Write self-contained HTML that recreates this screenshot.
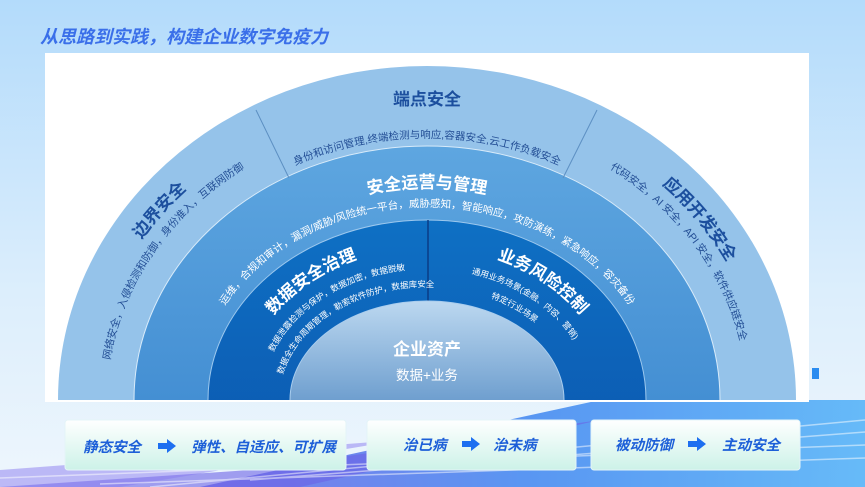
<!DOCTYPE html>
<html><head><meta charset="utf-8"><style>
html,body{margin:0;padding:0;width:865px;height:487px;overflow:hidden}
body{font-family:"Liberation Sans","Noto Sans CJK SC",sans-serif}
svg{display:block}
svg text{font-family:"Liberation Sans","Noto Sans CJK SC",sans-serif}
</style></head><body>
<svg width="865" height="487" viewBox="0 0 865 487" xmlns="http://www.w3.org/2000/svg">
<defs>
<linearGradient id="bg" x1="0" y1="0" x2="0" y2="1">
<stop offset="0" stop-color="#b3dbfb"/><stop offset="0.6" stop-color="#dceefc"/><stop offset="1" stop-color="#eef6fd"/>
</linearGradient>
<linearGradient id="r2" x1="0" y1="0" x2="0" y2="1">
<stop offset="0" stop-color="#5ea6e0"/><stop offset="1" stop-color="#2a78c6"/>
</linearGradient>
<linearGradient id="r3" x1="0" y1="0" x2="0" y2="1">
<stop offset="0" stop-color="#0e70c4"/><stop offset="1" stop-color="#0b4da6"/>
</linearGradient>
<linearGradient id="dome" x1="0" y1="0" x2="0" y2="1">
<stop offset="0" stop-color="#bcd8f0"/><stop offset="0.5" stop-color="#6f9fcf"/><stop offset="1" stop-color="#2c6fb0"/>
</linearGradient>
<linearGradient id="box" x1="0" y1="0" x2="0" y2="1">
<stop offset="0" stop-color="#ffffff"/><stop offset="1" stop-color="#cdf2e8"/>
</linearGradient>
<linearGradient id="stripe" x1="0" y1="0" x2="1" y2="0">
<stop offset="0" stop-color="#6a63e6"/><stop offset="0.5" stop-color="#3f86f0"/><stop offset="1" stop-color="#4fb0f7"/>
</linearGradient>
<clipPath id="cut"><rect x="0" y="0" width="865" height="400"/></clipPath>
<path id="pT1" d="M 89 400 A 338 300 0 0 1 765 400"/>
<path id="pS1" d="M 107 400 A 320 282 0 0 1 747 400"/>
<path id="pTop1" d="M 130 400 A 297 262 0 0 1 724 400"/>
<path id="pT2" d="M 182 400 A 245 212 0 0 1 672 400"/>
<path id="pS2" d="M 195 400 A 232 193 0 0 1 659 400"/>
<path id="pT3" d="M 242 400 A 185 152 0 0 1 612 400"/>
<path id="pL2" d="M 262 400 A 165 131 0 0 1 592 400"/>
<path id="pL3" d="M 279 400 A 148 113 0 0 1 575 400"/>
</defs>
<rect width="865" height="487" fill="url(#bg)"/>
<polygon points="200,487 865,487 865,400 600,400" fill="url(#stripe)" opacity="0.85"/>
<polygon points="0,487 300,487 600,420 250,470" fill="#6a63e6" opacity="0.6"/>
<polygon points="0,470 0,487 120,487 400,440" fill="#8a7cf0" opacity="0.5"/>
<g stroke="#ffffff" stroke-width="1.5" opacity="0.5">
<line x1="150" y1="487" x2="865" y2="420"/><line x1="250" y1="480" x2="865" y2="432"/>
<line x1="0" y1="478" x2="865" y2="445"/><line x1="100" y1="484" x2="865" y2="458"/>
</g>
<rect x="812" y="368" width="7" height="11" fill="#2a8cf0"/>
<text x="40" y="43" font-size="18" font-weight="bold" font-style="italic" fill="#3a6fe9">从思路到实践，构建企业数字免疫力</text>
<rect x="45" y="53" width="764" height="349" fill="#ffffff"/>
<g clip-path="url(#cut)">
<ellipse cx="427" cy="400" rx="369" ry="334" fill="#95c3ea"/>
<ellipse cx="427" cy="400" rx="293" ry="254" fill="url(#r2)" stroke="#d8ebfa" stroke-width="1"/>
<ellipse cx="427" cy="400" rx="219" ry="180" fill="url(#r3)" stroke="#9cc8ee" stroke-width="1"/>
<line x1="428" y1="220" x2="428" y2="310" stroke="#0a3c86" stroke-width="1.5"/>
<ellipse cx="427" cy="400" rx="137" ry="99" fill="url(#dome)" stroke="#a9cdee" stroke-width="1"/>
</g>
<line x1="256" y1="110" x2="289" y2="178" stroke="#5c8fc2" stroke-width="1"/>
<line x1="597" y1="110" x2="563" y2="178" stroke="#5c8fc2" stroke-width="1"/>
<text x="427" y="105" font-size="17" font-weight="bold" fill="#1c4f9e" text-anchor="middle">端点安全</text>
<text font-size="10.5" fill="#234e95" text-anchor="middle"><textPath href="#pTop1" startOffset="50%">身份和访问管理,终端检测与响应,容器安全,云工作负载安全</textPath></text>
<text font-size="17" font-weight="bold" fill="#1c4f9e" text-anchor="middle"><textPath href="#pT1" startOffset="20.5%">边界安全</textPath></text>
<text font-size="10.5" fill="#234e95" text-anchor="middle"><textPath href="#pS1" startOffset="17%">网络安全，入侵检测和防御，身份准入，互联网防御</textPath></text>
<text font-size="17" font-weight="bold" fill="#1c4f9e" text-anchor="middle"><textPath href="#pT1" startOffset="80.5%">应用开发安全</textPath></text>
<text font-size="10.5" fill="#234e95" text-anchor="middle"><textPath href="#pS1" startOffset="82%">代码安全，AI 安全，API 安全，软件供应链安全</textPath></text>
<text font-size="17" font-weight="bold" fill="#ffffff" text-anchor="middle"><textPath href="#pT2" startOffset="50%">安全运营与管理</textPath></text>
<text font-size="10.5" fill="#ffffff" text-anchor="middle"><textPath href="#pS2" startOffset="50%">运维，合规和审计，漏洞/威胁/风险统一平台，威胁感知，智能响应，攻防演练，紧急响应，容灾备份</textPath></text>
<text font-size="17" font-weight="bold" fill="#ffffff" text-anchor="middle"><textPath href="#pT3" startOffset="27%">数据安全治理</textPath></text>
<text font-size="8.5" fill="#ffffff" text-anchor="middle"><textPath href="#pL2" startOffset="28%">数据泄露检测与保护，数据加密，数据脱敏</textPath></text>
<text font-size="8.5" fill="#ffffff" text-anchor="middle"><textPath href="#pL3" startOffset="29%">数据全生命周期管理，勒索软件防护，数据库安全</textPath></text>
<text font-size="17" font-weight="bold" fill="#ffffff" text-anchor="middle"><textPath href="#pT3" startOffset="73%">业务风险控制</textPath></text>
<text font-size="8.5" fill="#ffffff" text-anchor="middle"><textPath href="#pL2" startOffset="73%">通用业务场景(金融、内容、营销)</textPath></text>
<text font-size="8.5" fill="#ffffff" text-anchor="middle"><textPath href="#pL3" startOffset="72%">特定行业场景</textPath></text>
<text x="427" y="355" font-size="17" font-weight="bold" fill="#ffffff" text-anchor="middle">企业资产</text>
<text x="427" y="380" font-size="13.5" fill="#ffffff" text-anchor="middle">数据+业务</text>
<rect x="65" y="420" width="281" height="50" rx="3" fill="url(#box)" stroke="#e4f4f8"/>
<rect x="367" y="420" width="209" height="50" rx="3" fill="url(#box)" stroke="#e4f4f8"/>
<rect x="591" y="420" width="209" height="50" rx="3" fill="url(#box)" stroke="#e4f4f8"/>
<g font-size="14.5" font-weight="bold" font-style="italic" fill="#1d5fd8">
<text x="83" y="452">静态安全</text>
<text x="191" y="452">弹性、自适应、可扩展</text>
<text x="403" y="450">治已病</text>
<text x="493" y="450">治未病</text>
<text x="615" y="450">被动防御</text>
<text x="722" y="450">主动安全</text>
</g>
<g fill="#1d6ff0">
<polygon points="158,443 167,443 167,439 176,446 167,453 167,449 158,449"/>
<polygon points="462,441 471,441 471,437 480,444 471,451 471,447 462,447"/>
<polygon points="688,441 697,441 697,437 706,444 697,451 697,447 688,447"/>
</g>
</svg>
</body></html>
